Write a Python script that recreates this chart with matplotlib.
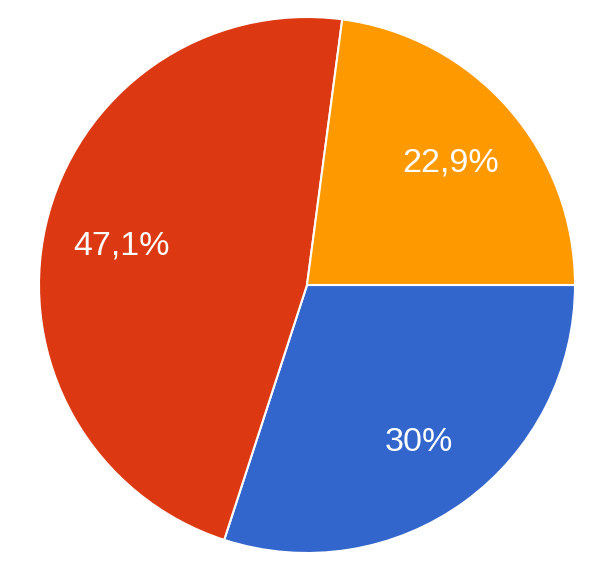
import matplotlib.pyplot as plt

shares = [30.0, 47.1, 22.9]   # clockwise from 3 o'clock
colors = ["#3366CC", "#DC3912", "#FF9900"]

def fmt(v):
    s = "%.1f" % v
    if s.endswith(".0"):
        s = s[:-2]
    return s.replace(".", ",") + "%"

fig = plt.figure(figsize=(5.9, 5.78), dpi=100)
# pie centre ~ (307, 285) px, radius ~ 268 px
ax = fig.add_axes([39 / 590, 25 / 578, 536 / 590, 536 / 578])
wedges, texts, autotexts = ax.pie(
    shares, colors=colors, startangle=0, counterclock=False,
    autopct=lambda p: "", pctdistance=0.71,
    wedgeprops=dict(edgecolor="white", linewidth=1.5),
)
for t, v in zip(autotexts, shares):
    t.set_text(fmt(v))
    t.set_color("white")
    t.set_fontsize(24.5)
    t.set_fontfamily("Liberation Sans")
    t.set_va("center_baseline")
ax.set_xlim(-1, 1)
ax.set_ylim(-1, 1)
ax.set_aspect("equal")
ax.axis("off")
fig.savefig("out.png", dpi=100)
